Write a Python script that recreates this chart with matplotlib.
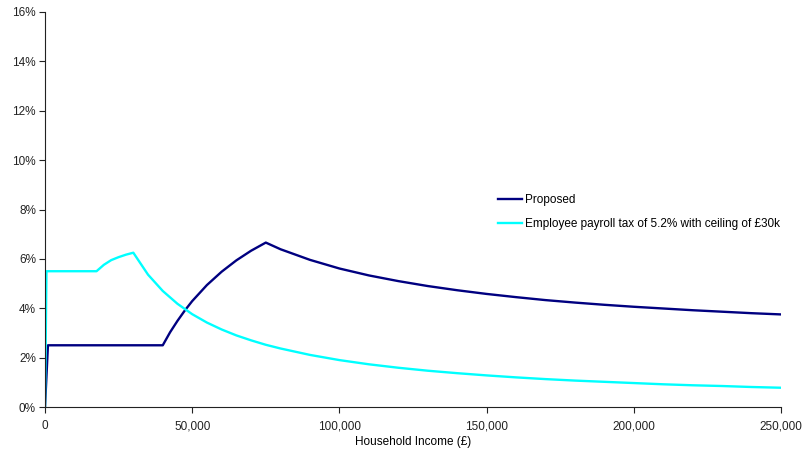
import matplotlib
matplotlib.use("Agg")
import matplotlib.pyplot as plt
from matplotlib.ticker import FuncFormatter

plt.rcParams['font.family'] = ['Liberation Sans', 'DejaVu Sans']

# household income (£) and rate (%)
proposed_x = [0, 1000, 40000, 42500, 45000, 47500, 50000, 55000, 60000, 65000, 70000,
              75000, 80000, 90000, 100000, 110000, 120000, 130000, 140000, 150000,
              160000, 170000, 180000, 190000, 200000, 210000, 220000, 230000,
              240000, 250000]
proposed_y = [0, 2.5, 2.5, 3.03, 3.49, 3.91, 4.29, 4.94, 5.48, 5.94, 6.33,
              6.66, 6.39, 5.96, 5.61, 5.33, 5.10, 4.90, 4.73, 4.58,
              4.45, 4.33, 4.23, 4.14, 4.06, 3.99, 3.92, 3.86,
              3.80, 3.75]

payroll_x = [0, 500, 17500, 20000, 22500, 25000, 27500, 30000, 35000, 40000, 45000,
             50000, 55000, 60000, 65000, 70000, 75000, 80000, 90000, 100000,
             110000, 120000, 130000, 140000, 150000, 160000, 170000, 180000,
             190000, 200000, 210000, 220000, 230000, 240000, 250000]
payroll_y = [0, 5.5, 5.5, 5.76, 5.95, 6.07, 6.17, 6.25, 5.36, 4.70, 4.18,
             3.76, 3.42, 3.14, 2.90, 2.70, 2.52, 2.37, 2.11, 1.90,
             1.73, 1.59, 1.47, 1.37, 1.28, 1.20, 1.13, 1.07,
             1.02, 0.97, 0.92, 0.88, 0.85, 0.81, 0.78]

fig = plt.figure(figsize=(8.07, 4.59), dpi=100)
ax = fig.add_axes([45 / 807, 1 - 407 / 459, 736 / 807, 395 / 459])

ax.plot(proposed_x, proposed_y, color='#000080', lw=1.7, label='Proposed')
ax.plot(payroll_x, payroll_y, color='#00FFFF', lw=1.7,
        label='Employee payroll tax of 5.2% with ceiling of £30k')

ax.set_xlim(0, 250000)
ax.set_ylim(0, 16)
ax.set_xticks(range(0, 250001, 50000))
ax.set_yticks(range(0, 17, 2))
ax.xaxis.set_major_formatter(FuncFormatter(lambda v, p: f'{int(v):,}'))
ax.yaxis.set_major_formatter(FuncFormatter(lambda v, p: f'{int(v)}%'))
ax.tick_params(direction='out', length=4.5, width=0.8, labelsize=8.5, colors='#222222')
ax.tick_params(axis='y', pad=2)
ax.tick_params(axis='x', pad=5)

for s in ['top', 'right']:
    ax.spines[s].set_visible(False)
for s in ['left', 'bottom']:
    ax.spines[s].set_color('#222222')
    ax.spines[s].set_linewidth(0.8)

ax.set_xlabel('Household Income (£)', fontsize=8.5, labelpad=3)

ax.legend(loc='upper left', bbox_to_anchor=((498 - 45) / 736, (407 - 194) / 395),
          frameon=False, fontsize=8.5, borderpad=0, borderaxespad=0,
          handlelength=2.0, handletextpad=0.25, labelspacing=1.05)

fig.savefig('out.png', dpi=100)
